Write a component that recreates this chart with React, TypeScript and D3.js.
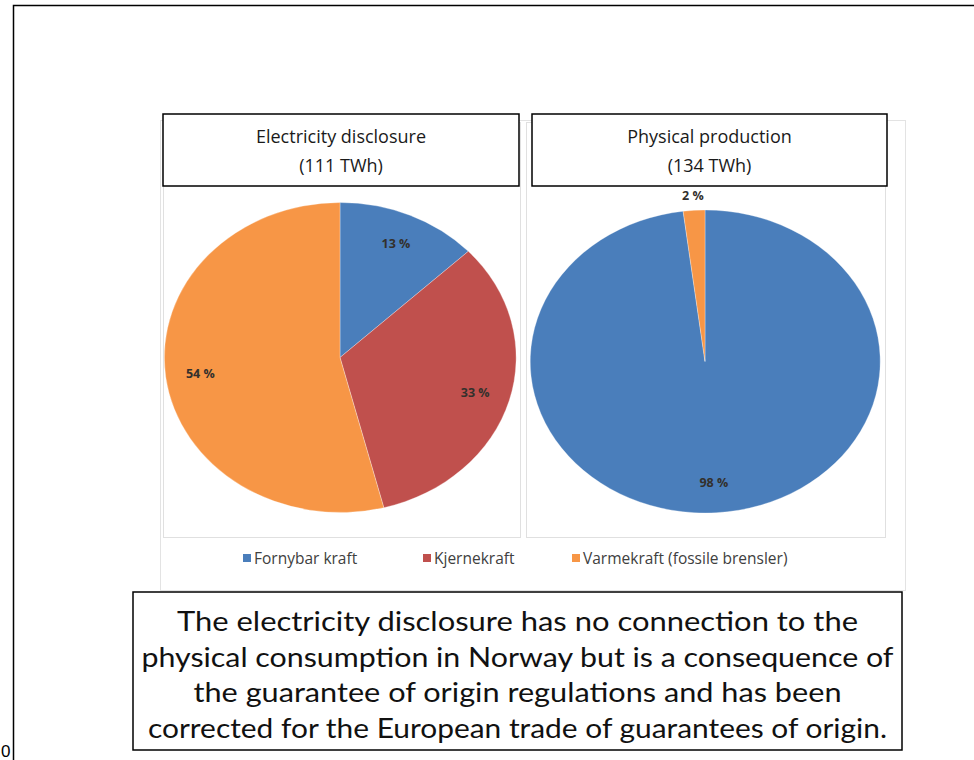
import React from "react";
import * as d3 from "d3";

const categories = ["Fornybar kraft", "Kjernekraft", "Varmekraft (fossile brensler)"];
const colors = ["#4A7EBB", "#C0504D", "#F79646"];
const disclosureValues = [13, 33, 54];
const productionValues = [98, 0, 2];
const chartTitles = [
  ["Electricity disclosure", "(111 TWh)"],
  ["Physical production", "(134 TWh)"],
];
const noteLines = [
  "The electricity disclosure has no connection to the",
  "physical consumption in Norway but is a consequence of",
  "the guarantee of origin regulations and has been",
  "corrected for the European trade of guarantees of origin.",
];
const noteWidths = [681, 752, 648, 739];

const W = 974;
const H = 760;

type PieSpec = { values: number[]; cx: number; cy: number; rx: number; ry: number };

function Pie({ values, cx, cy, rx, ry }: PieSpec) {
  const pie = d3.pie<number>().sort(null).value((d) => d);
  const arcs = pie(values);
  const arc = d3.arc<d3.PieArcDatum<number>>().innerRadius(0).outerRadius(1);
  return (
    <g>
      <g transform={`translate(${cx},${cy}) scale(${rx},${ry})`}>
        {arcs.map((a, i) =>
          a.value > 0 ? (
            <path
              key={i}
              d={arc(a) || ""}
              fill={colors[i]}
              stroke="#ffffff"
              strokeWidth={0.6}
              strokeOpacity={0.5}
              vectorEffect="non-scaling-stroke"
            />
          ) : null
        )}
      </g>
      {arcs.map((a, i) => {
        if (a.value <= 0) return null;
        const mid = (a.startAngle + a.endAngle) / 2;
        const r = a.value < 5 ? 1.1 : 0.8;
        const x = cx + Math.sin(mid) * r * rx;
        const y = cy - Math.cos(mid) * r * ry;
        return (
          <text
            key={"l" + i}
            x={x}
            y={y}
            textAnchor="middle"
            dominantBaseline="central"
            fontFamily="'Open Sans', sans-serif"
            fontWeight={700}
            fontSize={12.5}
            fill="#33302c"
          >
            {`${a.value} %`}
          </text>
        );
      })}
    </g>
  );
}

export default function App() {
  const legendX = [243, 423, 572];
  return (
    <svg width={W} height={H} style={{ position: "absolute", left: 0, top: 0 }}>
      <rect x={0} y={0} width={W} height={H} fill="#ffffff" />
      {/* outer frame */}
      <path d={`M13.5,${H} V5.5 H${W}`} fill="none" stroke="#000" strokeWidth={1.5} />
      <text x={1} y={757} fontFamily="'Liberation Sans', sans-serif" fontSize={17} fill="#000">
        0
      </text>

      {/* chart image panel */}
      <rect x={160.5} y={120.5} width={745} height={470} fill="#ffffff" stroke="#e3e3e3" strokeWidth={1} />
      <rect x={163.5} y={122.5} width={357} height={415} fill="#ffffff" stroke="#e0e0e0" strokeWidth={1} />
      <rect x={526.5} y={122.5} width={359} height={415} fill="#ffffff" stroke="#e0e0e0" strokeWidth={1} />

      <Pie values={disclosureValues} cx={340} cy={357.5} rx={176} ry={155} />
      <Pie values={productionValues} cx={705} cy={361.5} rx={175} ry={151.5} />

      {/* title boxes */}
      {chartTitles.map((t, i) => {
        const bx = i === 0 ? 163 : 532;
        const bw = i === 0 ? 356 : 355;
        const cxT = bx + bw / 2;
        return (
          <g key={i}>
            <rect x={bx} y={114} width={bw} height={72} fill="#ffffff" stroke="#000" strokeWidth={1.5} />
            <text x={cxT} y={143} textAnchor="middle" fontFamily="'Open Sans', sans-serif" fontSize={18} fill="#1a1a1a">
              {t[0]}
            </text>
            <text x={cxT} y={172} textAnchor="middle" fontFamily="'Open Sans', sans-serif" fontSize={18} fill="#1a1a1a">
              {t[1]}
            </text>
          </g>
        );
      })}

      {/* legend */}
      {categories.map((c, i) => (
        <g key={c}>
          <rect x={legendX[i]} y={554} width={8} height={8} fill={colors[i]} />
          <text
            x={legendX[i] + 11}
            y={558}
            dominantBaseline="central"
            fontFamily="'Open Sans', sans-serif"
            fontSize={15.5}
            fill="#404040"
          >
            {c}
          </text>
        </g>
      ))}

      {/* note box */}
      <rect x={133} y={592} width={769} height={158} fill="#ffffff" stroke="#000" strokeWidth={1.5} />
      {noteLines.map((l, i) => (
        <text
          key={i}
          x={517.5}
          y={631 + i * 35.5}
          textAnchor="middle"
          fontFamily="Lato, sans-serif"
          fontSize={27}
          fill="#111"
          textLength={noteWidths[i]}
          lengthAdjust="spacingAndGlyphs"
        >
          {l}
        </text>
      ))}
    </svg>
  );
}
